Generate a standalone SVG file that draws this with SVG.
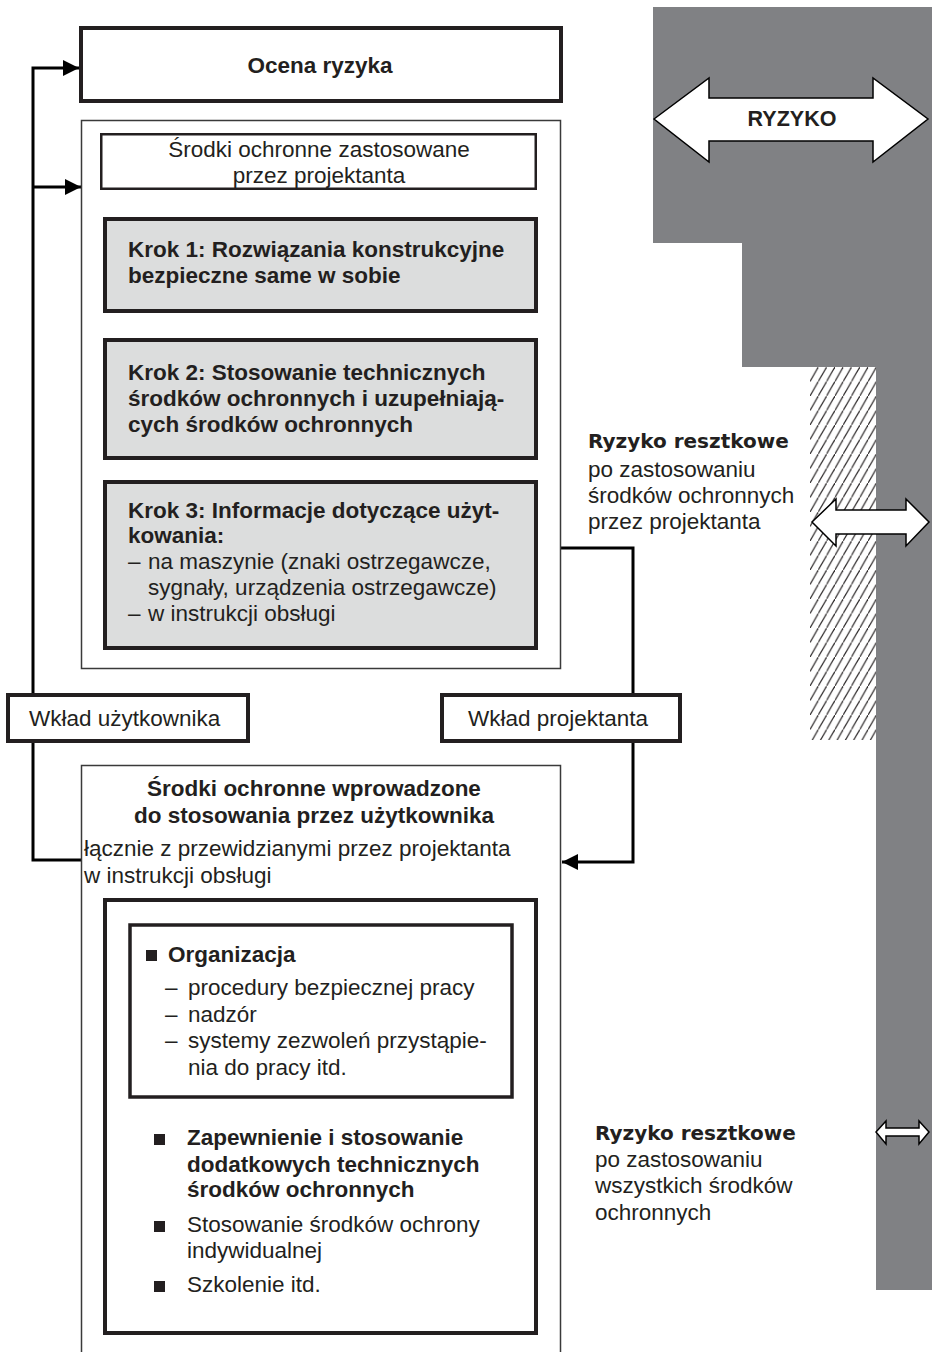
<svg xmlns="http://www.w3.org/2000/svg" width="932" height="1352" viewBox="0 0 932 1352">
<style>
  text { font-family: "Liberation Sans", Arial, sans-serif; fill: #231f20; font-size: 22.5px; }
  .b { font-weight: bold; }
  .c { text-anchor: middle; }
  .heavy { font-family: "DejaVu Sans", sans-serif; font-weight: bold; font-size: 20px; }
  .thick { fill: #fff; stroke: #231f20; stroke-width: 4; }
  .grey { fill: #dcdddd; stroke: #231f20; stroke-width: 4; }
  .thin { fill: #fff; stroke: #3a3a3a; stroke-width: 1.5; }
  .conn { fill: none; stroke: #000; stroke-width: 3; }
  .dbl { fill: #fff; stroke: #000; stroke-width: 1.5; stroke-linejoin: miter; }
</style>
<defs>
  <marker id="ah" markerUnits="userSpaceOnUse" markerWidth="16" markerHeight="16" refX="16" refY="8" orient="auto">
    <path d="M0,0 L16,8 L0,16 z" fill="#000"/>
  </marker>
  <pattern id="hatch" patternUnits="userSpaceOnUse" width="8.3" height="14.5" x="810" y="367">
    <path d="M-1,16.25 L9.3,-1.75" stroke="#231f20" stroke-width="1.1" fill="none"/>
  </pattern>
</defs>

<g id="risk-area">
  <polygon points="653,7 932,7 932,1290 876,1290 876,367 742,367 742,243 653,243" fill="#808184"/>
  <rect x="810" y="367" width="66" height="373" fill="url(#hatch)"/>
</g>

<g id="arrow-ryzyko">
  <polygon class="dbl" points="654,119 709,78 709,98 873,98 873,78 928,119 873,162 873,141 709,141 709,162"/>
  <text class="b c" x="792" y="126" style="font-size:21.5px">RYZYKO</text>
</g>

<g id="arrow-residual-1">
  <polygon class="dbl" stroke-width="2" points="812,522 836,499 836,510 906,510 906,499 929,522 906,546 906,534 836,534 836,546"/>
</g>

<g id="arrow-residual-2">
  <polygon class="dbl" stroke-width="2" points="876,1132 886,1121 886,1128 919,1128 919,1121 929,1132 919,1144 919,1136 886,1136 886,1144"/>
</g>

<g id="label-residual-1">
  <text class="heavy" x="588" y="448">Ryzyko resztkowe</text>
  <text x="588" y="477">po zastosowaniu</text>
  <text x="588" y="503">środków ochronnych</text>
  <text x="588" y="529">przez projektanta</text>
</g>

<g id="label-residual-2">
  <text class="heavy" x="595" y="1140">Ryzyko resztkowe</text>
  <text x="595" y="1167">po zastosowaniu</text>
  <text x="595" y="1193">wszystkich środków</text>
  <text x="595" y="1220">ochronnych</text>
</g>

<g id="connectors">
  <path class="conn" d="M33,695 V68 H79" marker-end="url(#ah)"/>
  <path class="conn" d="M33,187 H81" marker-end="url(#ah)"/>
  <path class="conn" d="M33,743 V860 H81"/>
  <path class="conn" d="M538,548 H633 V695"/>
  <path class="conn" d="M633,743 V862 H562" marker-end="url(#ah)"/>
</g>

<g id="ocena-ryzyka">
  <rect class="thick" x="81" y="28" width="480" height="73"/>
  <text class="b c" x="320" y="73">Ocena ryzyka</text>
</g>

<g id="designer-measures">
  <rect class="thin" x="81.5" y="120.5" width="479" height="548"/>
</g>

<g id="designer-title">
  <rect x="101.25" y="134.25" width="434.5" height="54.5" fill="#fff" stroke="#231f20" stroke-width="2.5"/>
  <text class="c" x="319" y="157">Środki ochronne zastosowane</text>
  <text class="c" x="319" y="183">przez projektanta</text>
</g>

<g id="krok-1">
  <rect class="grey" x="105" y="219" width="431" height="92"/>
  <text class="b" x="128" y="257">Krok 1: Rozwiązania konstrukcyjne</text>
  <text class="b" x="128" y="283">bezpieczne same w sobie</text>
</g>

<g id="krok-2">
  <rect class="grey" x="105" y="340" width="431" height="118"/>
  <text class="b" x="128" y="380">Krok 2: Stosowanie technicznych</text>
  <text class="b" x="128" y="406">środków ochronnych i uzupełniają-</text>
  <text class="b" x="128" y="432">cych środków ochronnych</text>
</g>

<g id="krok-3">
  <rect class="grey" x="105" y="482" width="431" height="166"/>
  <text class="b" x="128" y="518">Krok 3: Informacje dotyczące użyt-</text>
  <text class="b" x="128" y="543">kowania:</text>
  <text x="128" y="569">–</text>
  <text x="148" y="569">na maszynie (znaki ostrzegawcze,</text>
  <text x="148" y="595">sygnały, urządzenia ostrzegawcze)</text>
  <text x="128" y="621">–</text>
  <text x="148" y="621">w instrukcji obsługi</text>
</g>

<g id="wklad-uzytkownika">
  <rect class="thick" x="8" y="695" width="240" height="46"/>
  <text x="29" y="726">Wkład użytkownika</text>
</g>

<g id="wklad-projektanta">
  <rect class="thick" x="442" y="695" width="238" height="46"/>
  <text x="468" y="726">Wkład projektanta</text>
</g>

<g id="user-measures">
  <rect class="thin" x="81.5" y="765.5" width="479" height="600"/>
  <text class="b c" x="314" y="796">Środki ochronne wprowadzone</text>
  <text class="b c" x="314" y="823">do stosowania przez użytkownika</text>
  <text x="84" y="856">łącznie z przewidzianymi przez projektanta</text>
  <text x="84" y="883">w instrukcji obsługi</text>
</g>

<g id="user-measures-list">
  <rect class="thick" x="105" y="900" width="431" height="433"/>
</g>

<g id="organizacja">
  <rect x="130" y="925" width="382" height="172" fill="#fff" stroke="#231f20" stroke-width="3.5"/>
  <rect x="146" y="950" width="11" height="11" fill="#231f20"/>
  <text class="b" x="168" y="962">Organizacja</text>
  <text x="165" y="995">–</text>
  <text x="188" y="995">procedury bezpiecznej pracy</text>
  <text x="165" y="1022">–</text>
  <text x="188" y="1022">nadzór</text>
  <text x="165" y="1048">–</text>
  <text x="188" y="1048">systemy zezwoleń przystąpie-</text>
  <text x="188" y="1075">nia do pracy itd.</text>
</g>

<g id="other-measures">
  <rect x="154" y="1134" width="11" height="11" fill="#231f20"/>
  <text class="b" x="187" y="1145">Zapewnienie i stosowanie</text>
  <text class="b" x="187" y="1172">dodatkowych technicznych</text>
  <text class="b" x="187" y="1197">środków ochronnych</text>
  <rect x="154" y="1221" width="11" height="11" fill="#231f20"/>
  <text x="187" y="1232">Stosowanie środków ochrony</text>
  <text x="187" y="1258">indywidualnej</text>
  <rect x="154" y="1281" width="11" height="11" fill="#231f20"/>
  <text x="187" y="1292">Szkolenie itd.</text>
</g>
</svg>
